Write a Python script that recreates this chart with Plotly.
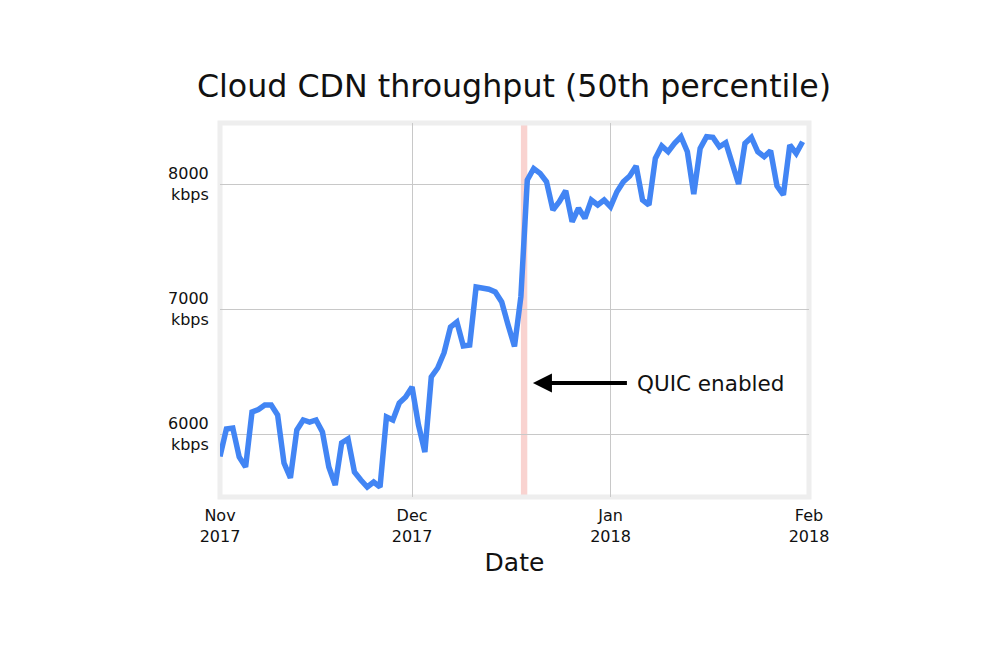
import pandas as pd
import plotly.graph_objects as go

# daily median throughput, Nov 1 2017 .. Jan 31 2018 (kbps)
dates = pd.date_range("2017-11-01", "2018-01-31", freq="D")
kbps = [
    5820, 6040, 6048, 5816, 5736, 6176, 6196, 6232, 6232, 6152,
    5768, 5648, 6032, 6112, 6096, 6112, 6016, 5736, 5592, 5928,
    5960, 5696, 5632, 5576, 5616, 5576, 6136, 6112, 6248, 6296,
    6376, 6072, 5856, 6456, 6528, 6650, 6856, 6896, 6704, 6712,
    7176, 7166, 7158, 7136, 7056, 6872, 6700, 7100, 8032, 8124,
    8085, 8018, 7792, 7858, 7946, 7698, 7806, 7726, 7872, 7832,
    7872, 7818, 7938, 8018, 8064, 8144, 7872, 7832, 8205, 8304,
    8258, 8325, 8378, 8258, 7920, 8285, 8378, 8373, 8298, 8330,
    8152, 8000, 8325, 8373, 8258, 8218, 8266, 7984, 7912, 8312,
    8245, 8338,
]

quic_start = "2017-12-18"
quic_end = "2017-12-19"

x_ticks = ["2017-11-01", "2017-12-01", "2018-01-01", "2018-02-01"]
x_labels = ["Nov<br>2017", "Dec<br>2017", "Jan<br>2018", "Feb<br>2018"]
y_ticks = [6000, 7000, 8000]
y_labels = ["6000<br>kbps", "7000<br>kbps", "8000<br>kbps"]

font = "DejaVu Sans"
ink = "#111111"

fig = go.Figure()
fig.add_trace(go.Scatter(x=dates, y=kbps, mode="lines",
                         line=dict(color="#4285F4", width=5.5),
                         hoverinfo="skip", showlegend=False))

# QUIC rollout day
fig.add_shape(type="rect", xref="x", yref="paper", x0=quic_start, x1=quic_end,
              y0=0, y1=1, fillcolor="#f9d3d0", line_width=0, layer="below")
# light frame around the plot area
fig.add_shape(type="rect", xref="paper", yref="paper", x0=0, x1=1, y0=0, y1=1,
              line=dict(color="#eeeeee", width=5), layer="below")

fig.add_annotation(x="2017-12-19 21:00", y=6408, xref="x", yref="y",
                   text="QUIC enabled", showarrow=True, axref="pixel", ayref="pixel",
                   ax=178, ay=0, arrowhead=2, arrowsize=0.95, arrowwidth=4,
                   arrowcolor="black", startstandoff=9,
                   font=dict(family=font, size=21.5, color=ink))

# page body adds an 8px offset, so margins are shifted to compensate
fig.update_layout(
    width=1000, height=648,
    paper_bgcolor="white", plot_bgcolor="white",
    margin=dict(l=212, r=199, t=115, b=159),
    title=dict(text="Cloud CDN throughput (50th percentile)", x=0.506, xanchor="center",
               y=0.8797, yanchor="middle",
               font=dict(family=font, size=31.7, color=ink)),
    font=dict(family=font, color=ink),
)
fig.update_xaxes(range=["2017-11-01", "2018-02-01"], tickvals=x_ticks, ticktext=x_labels,
                 showgrid=True, gridcolor="#c8c8c8", gridwidth=1, zeroline=False,
                 ticks="outside", ticklen=4, tickcolor="rgba(0,0,0,0)",
                 tickfont=dict(family=font, size=16, color=ink),
                 title=dict(text="Date", font=dict(family=font, size=25, color=ink), standoff=8))
fig.update_yaxes(range=[5496, 8488], tickvals=y_ticks, ticktext=y_labels,
                 showgrid=True, gridcolor="#c8c8c8", gridwidth=1, zeroline=False,
                 ticks="outside", ticklen=7, tickcolor="rgba(0,0,0,0)",
                 tickfont=dict(family=font, size=16, color=ink))

fig.write_html("out.html")
